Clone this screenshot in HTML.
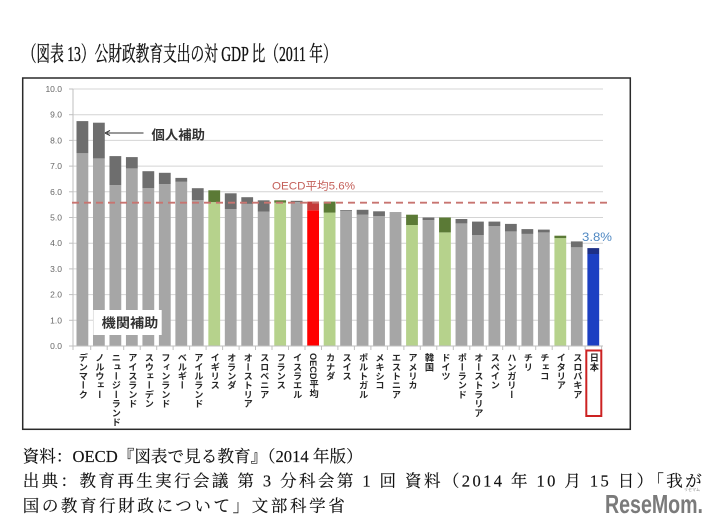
<!DOCTYPE html>
<html><head><meta charset="utf-8">
<style>
html,body{margin:0;padding:0;background:#fff;}
#wrap{position:relative;width:716px;height:531px;overflow:hidden;background:#fff;}
svg{position:absolute;left:0;top:0;}
.lb{position:absolute;top:353px;width:10px;writing-mode:vertical-rl;font-family:"Liberation Sans","Noto Sans CJK JP",sans-serif;font-size:9.2px;font-weight:bold;line-height:10px;color:#262626;white-space:nowrap;}
</style></head><body><div id="wrap">
<svg width="716" height="531" viewBox="0 0 716 531" xmlns="http://www.w3.org/2000/svg">
<rect x="0" y="0" width="716" height="531" fill="#fff"/>
<text x="22.7" y="61" font-family="Liberation Serif, Noto Serif CJK SC, serif" font-size="21" fill="#111" stroke="#111" stroke-width="0.35" textLength="314" lengthAdjust="spacingAndGlyphs">（図表 13）公財政教育支出の対 GDP 比（2011 年）</text>
<rect x="22.7" y="78" width="607.6" height="351.3" fill="none" stroke="#2a2a2a" stroke-width="1.5"/>
<g stroke="#d4d4d4" stroke-width="1">
<line x1="73" y1="89" x2="603" y2="89"/>
<line x1="73" y1="114.7" x2="603" y2="114.7"/>
<line x1="73" y1="140.4" x2="603" y2="140.4"/>
<line x1="73" y1="166.1" x2="603" y2="166.1"/>
<line x1="73" y1="191.8" x2="603" y2="191.8"/>
<line x1="73" y1="217.5" x2="603" y2="217.5"/>
<line x1="73" y1="243.2" x2="603" y2="243.2"/>
<line x1="73" y1="268.9" x2="603" y2="268.9"/>
<line x1="73" y1="294.6" x2="603" y2="294.6"/>
<line x1="73" y1="320.3" x2="603" y2="320.3"/>
</g>
<g font-family="Liberation Sans, sans-serif" font-size="8.5" fill="#666" text-anchor="end">
<text x="62" y="92">10.0</text><text x="62" y="117.7">9.0</text><text x="62" y="143.4">8.0</text><text x="62" y="169.1">7.0</text><text x="62" y="194.8">6.0</text><text x="62" y="220.5">5.0</text><text x="62" y="246.2">4.0</text><text x="62" y="271.9">3.0</text><text x="62" y="297.6">2.0</text><text x="62" y="323.3">1.0</text><text x="62" y="349">0.0</text>
</g>
<g stroke="#bfbfbf" stroke-width="1">
<line x1="73" y1="89" x2="73" y2="346"/>
<line x1="69" y1="89" x2="73" y2="89"/><line x1="69" y1="114.7" x2="73" y2="114.7"/><line x1="69" y1="140.4" x2="73" y2="140.4"/><line x1="69" y1="166.1" x2="73" y2="166.1"/><line x1="69" y1="191.8" x2="73" y2="191.8"/><line x1="69" y1="217.5" x2="73" y2="217.5"/><line x1="69" y1="243.2" x2="73" y2="243.2"/><line x1="69" y1="268.9" x2="73" y2="268.9"/><line x1="69" y1="294.6" x2="73" y2="294.6"/><line x1="69" y1="320.3" x2="73" y2="320.3"/><line x1="69" y1="346" x2="73" y2="346"/>
</g>
<!-- bars -->
<g>
<rect x="76.5" y="153.25" width="11.8" height="192.75" fill="#a6a6a6"/><rect x="76.5" y="121.1" width="11.8" height="32.15" fill="#6e6e6e"/>
<rect x="92.98" y="158.4" width="11.8" height="187.6" fill="#a6a6a6"/><rect x="92.98" y="122.7" width="11.8" height="35.7" fill="#6e6e6e"/>
<rect x="109.46" y="185.1" width="11.8" height="160.9" fill="#a6a6a6"/><rect x="109.46" y="156.1" width="11.8" height="29" fill="#6e6e6e"/>
<rect x="125.94" y="168.4" width="11.8" height="177.6" fill="#a6a6a6"/><rect x="125.94" y="157.1" width="11.8" height="11.3" fill="#6e6e6e"/>
<rect x="142.42" y="188.2" width="11.8" height="157.8" fill="#a6a6a6"/><rect x="142.42" y="171.2" width="11.8" height="17" fill="#6e6e6e"/>
<rect x="158.9" y="184.1" width="11.8" height="161.9" fill="#a6a6a6"/><rect x="158.9" y="172.8" width="11.8" height="11.3" fill="#6e6e6e"/>
<rect x="175.38" y="181.8" width="11.8" height="164.2" fill="#a6a6a6"/><rect x="175.38" y="177.9" width="11.8" height="3.9" fill="#6e6e6e"/>
<rect x="191.86" y="200" width="11.8" height="146" fill="#a6a6a6"/><rect x="191.86" y="188.2" width="11.8" height="11.8" fill="#6e6e6e"/>
<rect x="208.34" y="202.1" width="11.8" height="143.9" fill="#b6d28c"/><rect x="208.34" y="190.3" width="11.8" height="11.8" fill="#5b7a36"/>
<rect x="224.82" y="209" width="11.8" height="137" fill="#a6a6a6"/><rect x="224.82" y="193.3" width="11.8" height="15.7" fill="#6e6e6e"/>
<rect x="241.3" y="203.9" width="11.8" height="142.1" fill="#a6a6a6"/><rect x="241.3" y="197.2" width="11.8" height="6.7" fill="#6e6e6e"/>
<rect x="257.78" y="211.6" width="11.8" height="134.4" fill="#a6a6a6"/><rect x="257.78" y="200.3" width="11.8" height="11.3" fill="#6e6e6e"/>
<rect x="274.26" y="202.6" width="11.8" height="143.4" fill="#b6d28c"/><rect x="274.26" y="200.3" width="11.8" height="2.3" fill="#5b7a36"/>
<rect x="290.74" y="202.1" width="11.8" height="143.9" fill="#a6a6a6"/><rect x="290.74" y="200.8" width="11.8" height="1.3" fill="#6e6e6e"/>
<rect x="307.22" y="210.3" width="11.8" height="135.7" fill="#ff0000"/><rect x="307.22" y="201.6" width="11.8" height="8.7" fill="#c43a3a"/>
<rect x="323.7" y="212.6" width="11.8" height="133.4" fill="#b6d28c"/><rect x="323.7" y="201.6" width="11.8" height="11" fill="#5b7a36"/>
<rect x="340.18" y="210.8" width="11.8" height="135.2" fill="#a6a6a6"/><rect x="340.18" y="210" width="11.8" height="0.8" fill="#6e6e6e"/>
<rect x="356.66" y="214.7" width="11.8" height="131.3" fill="#a6a6a6"/><rect x="356.66" y="209.8" width="11.8" height="4.9" fill="#6e6e6e"/>
<rect x="373.14" y="216.2" width="11.8" height="129.8" fill="#a6a6a6"/><rect x="373.14" y="211.3" width="11.8" height="4.9" fill="#6e6e6e"/>
<rect x="389.62" y="213.1" width="11.8" height="132.9" fill="#a6a6a6"/><rect x="389.62" y="212.4" width="11.8" height="0.7" fill="#6e6e6e"/>
<rect x="406.1" y="225" width="11.8" height="121" fill="#b6d28c"/><rect x="406.1" y="214.7" width="11.8" height="10.3" fill="#5b7a36"/>
<rect x="422.58" y="220.1" width="11.8" height="125.9" fill="#a6a6a6"/><rect x="422.58" y="217.5" width="11.8" height="2.6" fill="#6e6e6e"/>
<rect x="439.06" y="232.4" width="11.8" height="113.6" fill="#b6d28c"/><rect x="439.06" y="217.5" width="11.8" height="14.9" fill="#5b7a36"/>
<rect x="455.54" y="223.4" width="11.8" height="122.6" fill="#a6a6a6"/><rect x="455.54" y="219" width="11.8" height="4.4" fill="#6e6e6e"/>
<rect x="472.02" y="235" width="11.8" height="111" fill="#a6a6a6"/><rect x="472.02" y="221.6" width="11.8" height="13.4" fill="#6e6e6e"/>
<rect x="488.5" y="226.2" width="11.8" height="119.8" fill="#a6a6a6"/><rect x="488.5" y="221.6" width="11.8" height="4.6" fill="#6e6e6e"/>
<rect x="504.98" y="231.4" width="11.8" height="114.6" fill="#a6a6a6"/><rect x="504.98" y="223.9" width="11.8" height="7.5" fill="#6e6e6e"/>
<rect x="521.46" y="233.9" width="11.8" height="112.1" fill="#a6a6a6"/><rect x="521.46" y="229.1" width="11.8" height="4.8" fill="#6e6e6e"/>
<rect x="537.94" y="232.4" width="11.8" height="113.6" fill="#a6a6a6"/><rect x="537.94" y="229.6" width="11.8" height="2.8" fill="#6e6e6e"/>
<rect x="554.42" y="238.1" width="11.8" height="107.9" fill="#b6d28c"/><rect x="554.42" y="235.7" width="11.8" height="2.4" fill="#5b7a36"/>
<rect x="570.9" y="247.3" width="11.8" height="98.7" fill="#a6a6a6"/><rect x="570.9" y="241.4" width="11.8" height="5.9" fill="#6e6e6e"/>
<rect x="587.38" y="254" width="11.8" height="92" fill="#1c3fc2"/><rect x="587.38" y="248.1" width="11.8" height="5.9" fill="#1d2f86"/>
</g>
<line x1="73" y1="346" x2="603" y2="346" stroke="#bfbfbf" stroke-width="1"/>
<g stroke="#bfbfbf" stroke-width="1">
<line x1="73" y1="346" x2="73" y2="350"/><line x1="90.7" y1="346" x2="90.7" y2="350"/><line x1="107.2" y1="346" x2="107.2" y2="350"/><line x1="123.7" y1="346" x2="123.7" y2="350"/><line x1="140.2" y1="346" x2="140.2" y2="350"/><line x1="156.7" y1="346" x2="156.7" y2="350"/><line x1="173.1" y1="346" x2="173.1" y2="350"/><line x1="189.6" y1="346" x2="189.6" y2="350"/><line x1="206.1" y1="346" x2="206.1" y2="350"/><line x1="222.6" y1="346" x2="222.6" y2="350"/><line x1="239.1" y1="346" x2="239.1" y2="350"/><line x1="255.5" y1="346" x2="255.5" y2="350"/><line x1="272" y1="346" x2="272" y2="350"/><line x1="288.5" y1="346" x2="288.5" y2="350"/><line x1="305" y1="346" x2="305" y2="350"/><line x1="321.5" y1="346" x2="321.5" y2="350"/><line x1="337.9" y1="346" x2="337.9" y2="350"/><line x1="354.4" y1="346" x2="354.4" y2="350"/><line x1="370.9" y1="346" x2="370.9" y2="350"/><line x1="387.4" y1="346" x2="387.4" y2="350"/><line x1="403.9" y1="346" x2="403.9" y2="350"/><line x1="420.3" y1="346" x2="420.3" y2="350"/><line x1="436.8" y1="346" x2="436.8" y2="350"/><line x1="453.3" y1="346" x2="453.3" y2="350"/><line x1="469.8" y1="346" x2="469.8" y2="350"/><line x1="486.3" y1="346" x2="486.3" y2="350"/><line x1="502.7" y1="346" x2="502.7" y2="350"/><line x1="519.2" y1="346" x2="519.2" y2="350"/><line x1="535.7" y1="346" x2="535.7" y2="350"/><line x1="552.2" y1="346" x2="552.2" y2="350"/><line x1="568.7" y1="346" x2="568.7" y2="350"/><line x1="585.1" y1="346" x2="585.1" y2="350"/><line x1="601.6" y1="346" x2="601.6" y2="350"/>
</g>
<!-- OECD avg dashed line -->
<line x1="72" y1="202.7" x2="612" y2="202.7" stroke="#c87470" stroke-width="1.8" stroke-dasharray="7,5"/>
<text x="272" y="189.5" font-family="Liberation Sans, Noto Sans CJK JP, sans-serif" font-size="11" fill="#c4605a" textLength="83" lengthAdjust="spacingAndGlyphs">OECD平均5.6%</text>
<text x="582" y="241" font-family="Liberation Sans, sans-serif" font-size="11.5" fill="#4f88c2" textLength="30" lengthAdjust="spacingAndGlyphs">3.8%</text>
<!-- 個人補助 annotation -->
<line x1="107" y1="133" x2="143.5" y2="133" stroke="#333" stroke-width="1"/>
<path d="M105,133 L110,130.5 M105,133 L110,135.5" stroke="#333" stroke-width="1" fill="none"/>
<text x="151.5" y="139.5" font-family="Liberation Sans, Noto Sans CJK JP, sans-serif" font-size="13" font-weight="bold" fill="#333" textLength="53.5" lengthAdjust="spacingAndGlyphs">個人補助</text>
<!-- 機関補助 box -->
<rect x="93.3" y="310" width="68.4" height="25" fill="#fff"/>
<text x="101.7" y="327.5" font-family="Liberation Sans, Noto Sans CJK JP, sans-serif" font-size="13" font-weight="bold" fill="#333" textLength="56.6" lengthAdjust="spacingAndGlyphs">機関補助</text>
<!-- Japan red box -->
<rect x="586.3" y="350.5" width="15" height="65.5" fill="none" stroke="#cc2222" stroke-width="2"/>
<!-- footer -->
<g font-family="Liberation Serif, Noto Serif CJK SC, serif" font-size="16.5" fill="#111" stroke="#111" stroke-width="0.15">
<text x="22.7" y="462" textLength="340" lengthAdjust="spacingAndGlyphs">資料：OECD『図表で見る教育』（2014 年版）</text>
<text x="22.7" y="486.5" textLength="679" lengthAdjust="spacing">出典：教育再生実行会議 第 3 分科会第 1 回 資料（2014 年 10 月 15 日）「我が</text>
<text x="22.7" y="511.5" textLength="322" lengthAdjust="spacing">国の教育行財政について」文部科学省</text>
</g>
<text x="605" y="513" font-family="Liberation Sans, sans-serif" font-size="26" font-weight="bold" fill="#7a7a7a" textLength="98" lengthAdjust="spacingAndGlyphs">ReseMom.</text>
<text x="684" y="491" font-family="Liberation Sans, Noto Sans CJK JP, sans-serif" font-size="4" fill="#8a8a8a">リセマム</text>
</svg>
<div class="lb" style="left:77.4px">デンマーク</div>
<div class="lb" style="left:93.9px">ノルウェー</div>
<div class="lb" style="left:110.4px">ニュージーランド</div>
<div class="lb" style="left:126.8px">アイスランド</div>
<div class="lb" style="left:143.3px">スウェーデン</div>
<div class="lb" style="left:159.8px">フィンランド</div>
<div class="lb" style="left:176.3px">ベルギー</div>
<div class="lb" style="left:192.8px">アイルランド</div>
<div class="lb" style="left:209.2px">イギリス</div>
<div class="lb" style="left:225.7px">オランダ</div>
<div class="lb" style="left:242.2px">オーストリア</div>
<div class="lb" style="left:258.7px">スロベニア</div>
<div class="lb" style="left:275.2px">フランス</div>
<div class="lb" style="left:291.6px">イスラエル</div>
<div class="lb" style="left:308.1px">OECD平均</div>
<div class="lb" style="left:324.6px">カナダ</div>
<div class="lb" style="left:341.1px">スイス</div>
<div class="lb" style="left:357.6px">ポルトガル</div>
<div class="lb" style="left:374px">メキシコ</div>
<div class="lb" style="left:390.5px">エストニア</div>
<div class="lb" style="left:407px">アメリカ</div>
<div class="lb" style="left:423.5px">韓国</div>
<div class="lb" style="left:440px">ドイツ</div>
<div class="lb" style="left:456.4px">ポーランド</div>
<div class="lb" style="left:472.9px">オーストラリア</div>
<div class="lb" style="left:489.4px">スペイン</div>
<div class="lb" style="left:505.9px">ハンガリー</div>
<div class="lb" style="left:522.4px">チリ</div>
<div class="lb" style="left:538.8px">チェコ</div>
<div class="lb" style="left:555.3px">イタリア</div>
<div class="lb" style="left:571.8px">スロバキア</div>
<div class="lb" style="left:588.3px">日本</div>
</div></body></html>
